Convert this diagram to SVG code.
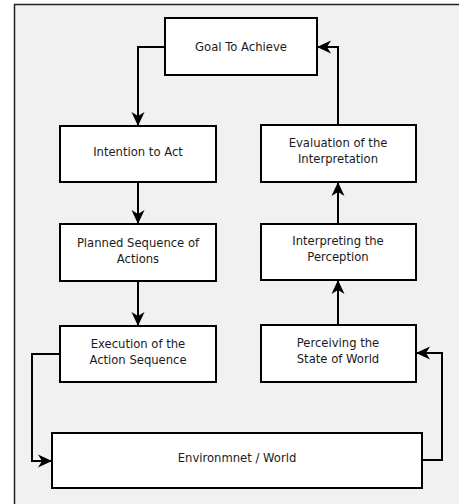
<svg xmlns="http://www.w3.org/2000/svg" width="459" height="504" viewBox="0 0 459 504">
  <style>
    .box { fill: #ffffff; stroke: #000000; stroke-width: 2; }
    .lbl { font-family: "DejaVu Sans", "Noto Sans", sans-serif; font-size: 11.6px; fill: #1a1a1a; text-anchor: middle; }
    .wire { fill: none; stroke: #000000; stroke-width: 2; marker-end: url(#head); }
  </style>
  <defs>
    <marker id="head" viewBox="0 0 14 14" refX="13" refY="7" markerWidth="14" markerHeight="14" markerUnits="userSpaceOnUse" orient="auto">
      <path d="M0,0.5 L14,7 L0,13.5 L4,7 z" fill="#000000"/>
    </marker>
  </defs>

  <!-- canvas frame -->
  <rect x="14.5" y="4.5" width="460" height="520" fill="#f1f1f1" stroke="#222222" stroke-width="1.5"/>

  <g id="goal">
    <rect class="box" x="165" y="18" width="152" height="57"/>
    <text class="lbl" x="241" y="51">Goal To Achieve</text>
  </g>
  <g id="intention">
    <rect class="box" x="60" y="126" width="156" height="56"/>
    <text class="lbl" x="138" y="156">Intention to Act</text>
  </g>
  <g id="planned">
    <rect class="box" x="60" y="224" width="156" height="57"/>
    <text class="lbl" x="138" y="247">Planned Sequence of</text>
    <text class="lbl" x="138" y="263">Actions</text>
  </g>
  <g id="execution">
    <rect class="box" x="60" y="326" width="156" height="56"/>
    <text class="lbl" x="138" y="348">Execution of the</text>
    <text class="lbl" x="138" y="364">Action Sequence</text>
  </g>
  <g id="environment">
    <rect class="box" x="52" y="433" width="370" height="55"/>
    <text class="lbl" x="237" y="462">Environmnet / World</text>
  </g>
  <g id="perceiving">
    <rect class="box" x="261" y="325" width="155" height="57"/>
    <text class="lbl" x="338" y="347">Perceiving the</text>
    <text class="lbl" x="338" y="363">State of World</text>
  </g>
  <g id="interpreting">
    <rect class="box" x="261" y="224" width="155" height="56"/>
    <text class="lbl" x="338" y="245">Interpreting the</text>
    <text class="lbl" x="338" y="261">Perception</text>
  </g>
  <g id="evaluation">
    <rect class="box" x="261" y="125" width="155" height="57"/>
    <text class="lbl" x="338" y="147">Evaluation of the</text>
    <text class="lbl" x="338" y="163">Interpretation</text>
  </g>

  <g id="connectors">
    <path class="wire" d="M165,47 H138 V125"/>
    <path class="wire" d="M138,182 V223"/>
    <path class="wire" d="M138,281 V325"/>
    <path class="wire" d="M60,354 H32 V461 H51"/>
    <path class="wire" d="M422,460 H442 V353 H417"/>
    <path class="wire" d="M338,325 V281"/>
    <path class="wire" d="M338,224 V183"/>
    <path class="wire" d="M338,125 V47 H318"/>
  </g>
</svg>
